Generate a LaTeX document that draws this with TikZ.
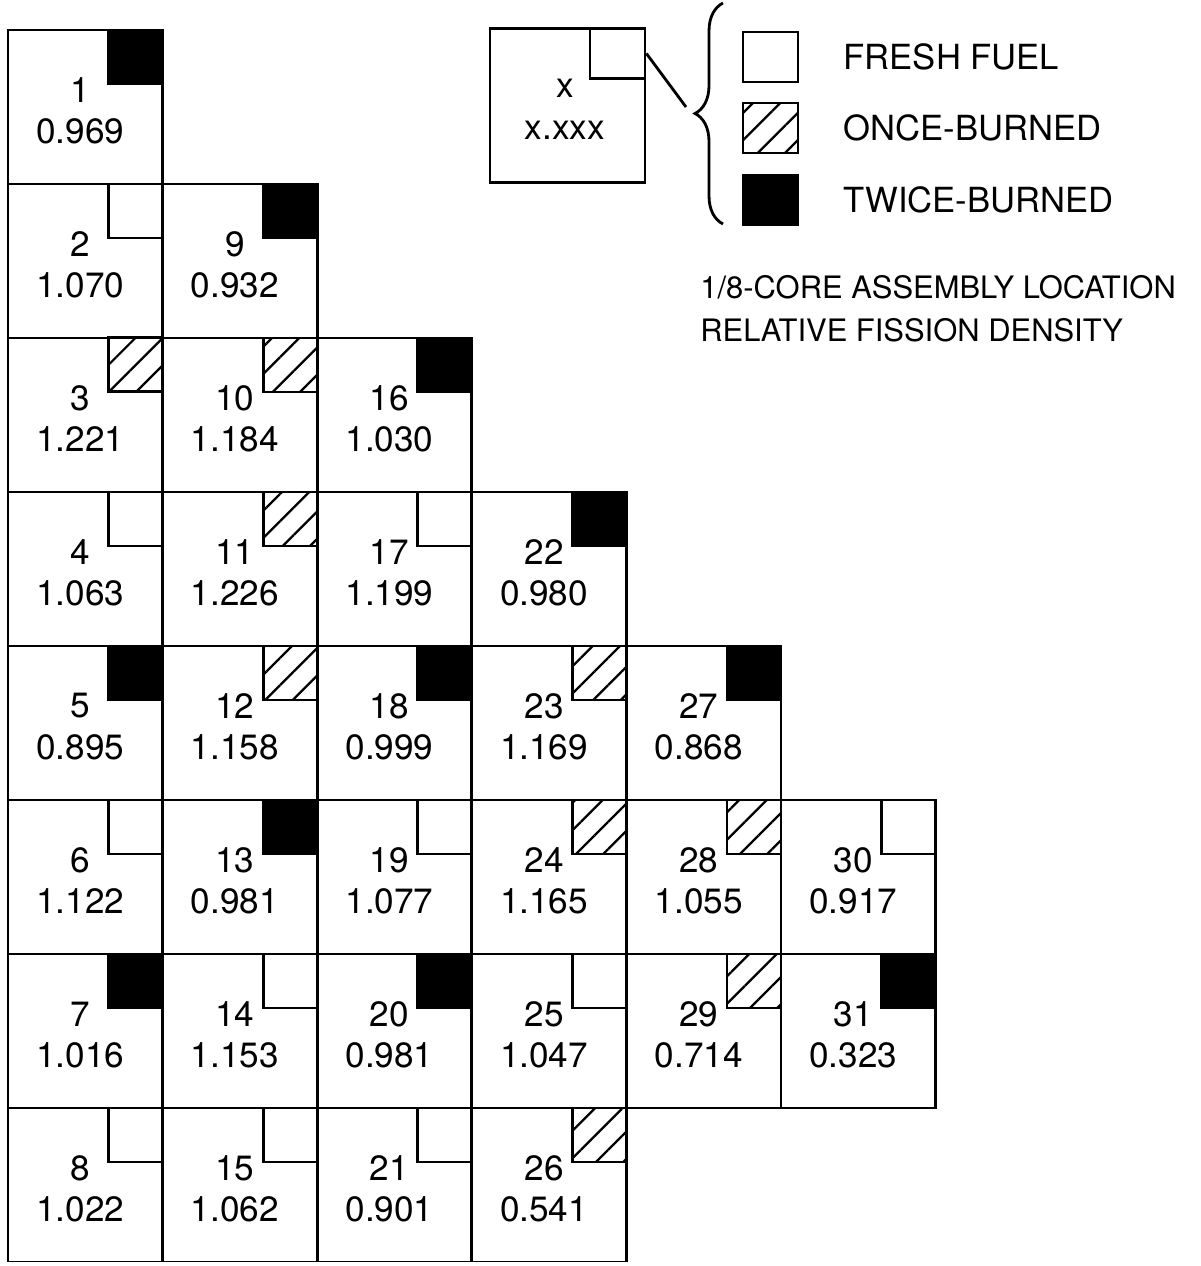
\documentclass[tikz,border=0pt]{standalone}
\usepackage{fontspec}
\setmainfont{TeX Gyre Heros}
\usepackage{tikz}
\usetikzlibrary{positioning,patterns.meta,decorations.pathreplacing}

\tikzset{
  cell/.style={draw,line width=1.6pt,minimum width=3.09cm,minimum height=3.08cm,inner sep=0pt},
  corner/.style={draw,line width=1.6pt,minimum size=1.08cm,inner sep=0pt,anchor=north east},
  freshsq/.style={corner},
  oncesq/.style={corner,pattern={Lines[angle=45,distance=11pt,line width=1.3pt]}},
  twicesq/.style={corner,fill=black},
  swatch/.style={draw,line width=1.6pt,minimum width=1.1cm,minimum height=1.0cm,inner sep=0pt},
  celltxt/.style={font=\fontsize{20}{22}\selectfont,inner sep=0pt},
  legtxt/.style={font=\fontsize{19.7}{22}\selectfont,inner sep=0pt,anchor=west},
  notetxt/.style={font=\fontsize{17.6}{20}\selectfont,inner sep=0pt,anchor=west}
}

\begin{document}
\begin{tikzpicture}[x=0.02cm,y=-0.02cm]
    \useasboundingbox (0,0) rectangle (1200,1266);
    \clip (0,0) rectangle (1200,1261);
    % core map, 1/8 core
    \foreach \n/\c/\r/\v/\k in {
      1/0/0/0.969/twicesq, 2/0/1/1.070/freshsq, 3/0/2/1.221/oncesq, 4/0/3/1.063/freshsq,
      5/0/4/0.895/twicesq, 6/0/5/1.122/freshsq, 7/0/6/1.016/twicesq, 8/0/7/1.022/freshsq,
      9/1/1/0.932/twicesq, 10/1/2/1.184/oncesq, 11/1/3/1.226/oncesq, 12/1/4/1.158/oncesq,
      13/1/5/0.981/twicesq, 14/1/6/1.153/freshsq, 15/1/7/1.062/freshsq,
      16/2/2/1.030/twicesq, 17/2/3/1.199/freshsq, 18/2/4/0.999/twicesq, 19/2/5/1.077/freshsq,
      20/2/6/0.981/twicesq, 21/2/7/0.901/freshsq,
      22/3/3/0.980/twicesq, 23/3/4/1.169/oncesq, 24/3/5/1.165/oncesq, 25/3/6/1.047/freshsq,
      26/3/7/0.541/oncesq,
      27/4/4/0.868/twicesq, 28/4/5/1.055/oncesq, 29/4/6/0.714/oncesq,
      30/5/5/0.917/freshsq, 31/5/6/0.323/twicesq}{
      \node[cell] (c\n) at ({85.3+154.6*\c},{107+154*\r}) {};
      \node[\k] (s\n) at (c\n.north east) {};
      \node[celltxt] (n\n) at ([xshift=-0.1cm,yshift=0.34cm]c\n.center) {\n};
      \node[celltxt] (v\n) at ([xshift=-0.1cm,yshift=-0.48cm]c\n.center) {\v};
    }
    % key
    \node[cell,minimum width=3.1cm] (key) at (567.5,105.5) {};
    \node[freshsq,minimum width=1.1cm,minimum height=1.0cm] (keysq) at (key.north east) {};
    \node[celltxt] (keyn) at ([xshift=-0.05cm,yshift=0.35cm]key.center) {x};
    \node[celltxt] (keyv) at ([xshift=-0.05cm,yshift=-0.49cm]key.center) {x.xxx};
    \coordinate (tip) at (686,107);
    \draw[line width=1.6pt] (keysq.east) -- (tip);
    \draw[line width=1.6pt,decorate,decoration={brace,amplitude=0.56cm}] (723,224) -- (723,3);
    % legend
    \node[swatch] (legfresh) at (770.5,57) {};
    \node[swatch,pattern={Lines[angle=45,distance=11pt,line width=1.3pt]}] (legonce) at (770.5,128) {};
    \node[swatch,fill=black] (legtwice) at (770.5,200) {};
    \node[legtxt,right=0.88cm of legfresh] (lfresh) {FRESH FUEL};
    \node[legtxt,right=0.88cm of legonce] (lonce) {ONCE-BURNED};
    \node[legtxt,right=0.88cm of legtwice] (ltwice) {TWICE-BURNED};
    \node[notetxt] (loc) at (700,287) {1/8-CORE ASSEMBLY LOCATION};
    \node[notetxt] (dens) at (700,330) {RELATIVE FISSION DENSITY};
  \end{tikzpicture}
\end{document}
